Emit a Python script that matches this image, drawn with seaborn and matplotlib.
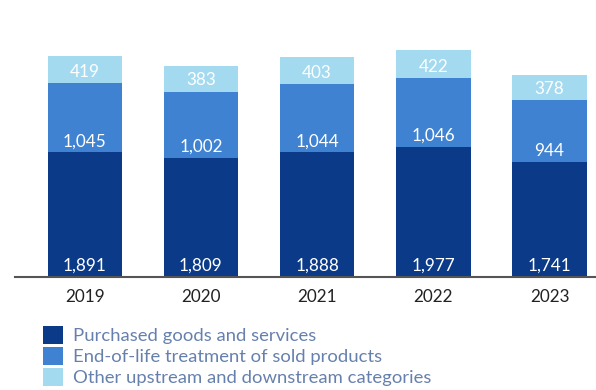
import matplotlib
matplotlib.use("Agg")
import matplotlib.pyplot as plt
from matplotlib.patches import Patch
import seaborn as sns
import pandas as pd

years = ["2019", "2020", "2021", "2022", "2023"]
purchased = [1891, 1809, 1888, 1977, 1741]
end_of_life = [1045, 1002, 1044, 1046, 944]
other = [419, 383, 403, 422, 378]

series_names = ["Purchased goods and services",
                "End-of-life treatment of sold products",
                "Other upstream and downstream categories"]
colors = ["#0B3A88", "#3E82D1", "#A3DAF0"]

sns.set_theme(style="white")
plt.rcParams['font.family'] = ['Lato', 'DejaVu Sans']

df = pd.DataFrame({"year": years, "purchased": purchased,
                   "eol": end_of_life, "other": other})
df["cum1"] = df["purchased"]
df["cum2"] = df["purchased"] + df["eol"]
df["cum3"] = df["cum2"] + df["other"]

fig = plt.figure(figsize=(5.96, 3.90), dpi=100)
ax = fig.add_axes([15 / 596, 1 - 277 / 390, 581 / 596, 277 / 390])

# stacked bars: draw totals first, then smaller cumulative sums on top
for col, c in zip(["cum3", "cum2", "cum1"], colors[::-1]):
    sns.barplot(data=df, x="year", y=col, color=c, width=0.64,
                saturation=1, ax=ax, linewidth=0)

bottoms = [[0] * 5, list(df["cum1"]), list(df["cum2"])]
values = [purchased, end_of_life, other]
for bot, vals in zip(bottoms, values):
    for i, (b, v) in enumerate(zip(bot, vals)):
        ax.annotate(f"{v:,}", (i, b), xytext=(0, 8), textcoords="offset points",
                    ha="center", va="center", color="white", fontsize=12.3)

ax.set_xlim(-0.6, 4.4)
ax.set_ylim(0, 4200)
ax.set_xlabel("")
ax.set_ylabel("")
ax.set_yticks([])
for s in ["top", "right", "left"]:
    ax.spines[s].set_visible(False)
ax.spines["bottom"].set_color("#555555")
ax.spines["bottom"].set_linewidth(1.5)
ax.tick_params(axis="x", length=0, pad=9, labelsize=12.3, labelcolor="#222222")

handles = [Patch(facecolor=c, edgecolor="none") for c in colors]
fig.legend(handles, series_names, loc="upper left",
           bbox_to_anchor=(43 / 596, 1 - 326 / 390), frameon=False,
           prop={"size": 13.3},
           handlelength=1.1, handleheight=1.1,
           handletextpad=0.55, labelspacing=0.16, labelcolor="#6680AE",
           borderaxespad=0, borderpad=0)

fig.savefig("out.png", dpi=100)
